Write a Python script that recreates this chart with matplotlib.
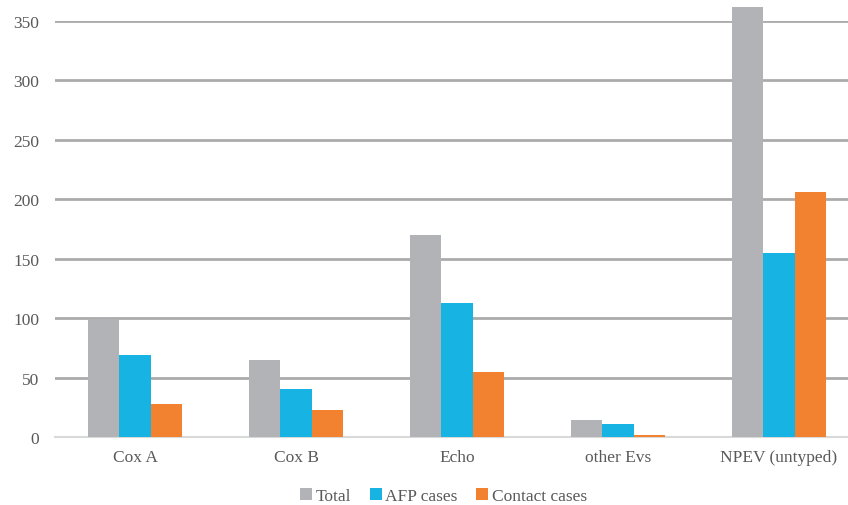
import numpy as np
import matplotlib.pyplot as plt

plt.rcParams['font.family'] = ['Liberation Serif', 'DejaVu Serif']

categories = ['Cox A', 'Cox B', 'Echo', 'other Evs', 'NPEV (untyped)']
total = [99, 65, 170, 14, 362]
afp_cases = [69, 40, 113, 11, 155]
contact_cases = [28, 23, 55, 2, 206]

fig = plt.figure(figsize=(8.48, 5.06), dpi=100)
# right edge of the plot area runs a little past the canvas
ax = fig.add_axes([54.5 / 848, 68 / 506, 805 / 848, 416 / 506])

x = np.arange(len(categories))
w = 0.193
ax.bar(x - w, total, w, color='#B1B3B6', label='Total', zorder=3, clip_on=False)
ax.bar(x, afp_cases, w, color='#16B3E3', label='AFP cases', zorder=3, clip_on=False)
ax.bar(x + w, contact_cases, w, color='#F28230', label='Contact cases', zorder=3, clip_on=False)

ax.set_xlim(-0.5, len(categories) - 0.5)
ax.set_ylim(0, 350)
ax.set_yticks(range(0, 351, 50))
ax.set_xticks(x)
ax.set_xticklabels(categories)

ax.yaxis.grid(True, color='#ABABAB', linewidth=2, zorder=0)
for s in ['top', 'right', 'left']:
    ax.spines[s].set_visible(False)
ax.spines['bottom'].set_color('#D9D9D9')
ax.spines['bottom'].set_linewidth(1.5)
ax.spines['bottom'].set_zorder(2)
ax.tick_params(axis='both', length=0, labelsize=12.5, labelcolor='#595959')
ax.tick_params(axis='y', pad=11)
ax.tick_params(axis='x', pad=9)

fig.legend(loc='center', bbox_to_anchor=(443.5 / 848, 1 - 497 / 506), ncol=3,
           frameon=False, fontsize=12.5, labelcolor='#595959',
           handlelength=0.7, handleheight=0.7, handletextpad=0.2, columnspacing=1.05)

fig.savefig('out.png', dpi=100)
